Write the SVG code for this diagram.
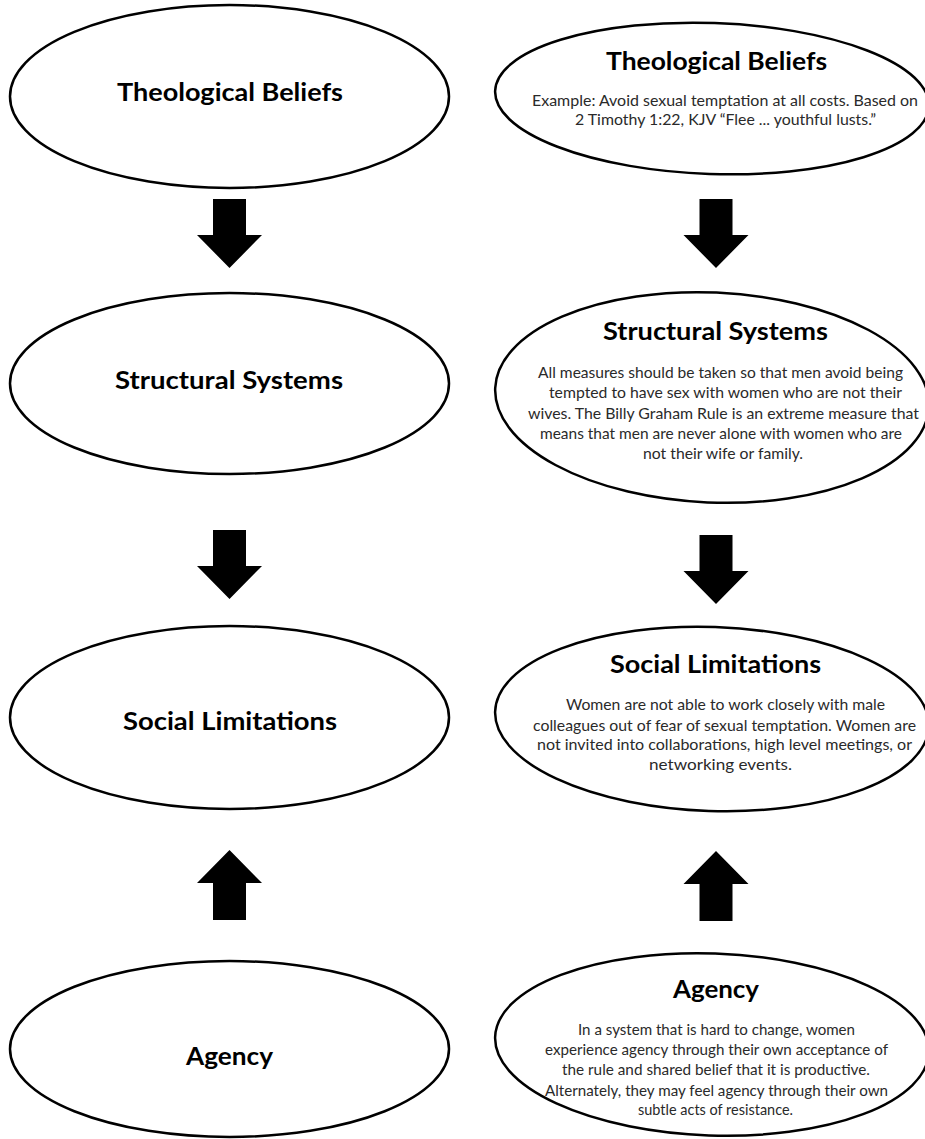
<svg xmlns="http://www.w3.org/2000/svg" xmlns:xlink="http://www.w3.org/1999/xlink" width="925" height="1139" viewBox="0 0 925 1139">
<style>
.node{fill:#fff;stroke:#000;stroke-width:2.5}
.title{font-family:Lato,"Open Sans",sans-serif;font-weight:700;font-size:25px;fill:#000;text-anchor:middle}
.body{font-family:Lato,"Open Sans",sans-serif;font-size:16px;fill:#2a2a2a;text-anchor:middle}
.arrow{fill:#000}
</style>
<defs>
<path id="down" d="M-16.5,0 H16.5 V36 H32.5 L0,69 L-32.5,36 H-16.5 Z"/>
<path id="up" d="M0,0 L32.5,33 H16.5 V70 H-16.5 V33 H-32.5 Z"/>
</defs>
<rect width="925" height="1139" fill="#fff"/>

<g id="left-theological">
<ellipse class="node" cx="229.5" cy="96.5" rx="219.5" ry="91.5"/>
<text class="title" x="230" y="101" textLength="226" lengthAdjust="spacingAndGlyphs">Theological Beliefs</text>
</g>
<g id="left-structural">
<ellipse class="node" cx="229.5" cy="383.5" rx="219.5" ry="90.5"/>
<text class="title" x="229" y="389" textLength="228" lengthAdjust="spacingAndGlyphs">Structural Systems</text>
</g>
<g id="left-social">
<ellipse class="node" cx="229.5" cy="717.5" rx="219.5" ry="91.5"/>
<text class="title" x="230" y="730" textLength="214" lengthAdjust="spacingAndGlyphs">Social Limitations</text>
</g>
<g id="left-agency">
<ellipse class="node" cx="229.5" cy="1049" rx="219.5" ry="88"/>
<text class="title" x="229.5" y="1065" textLength="87" lengthAdjust="spacingAndGlyphs">Agency</text>
</g>

<g id="right-theological">
<ellipse class="node" cx="712" cy="98.5" rx="217" ry="75.5" transform="rotate(2 712 98.5)"/>
<text class="title" x="716.5" y="70" textLength="221" lengthAdjust="spacingAndGlyphs">Theological Beliefs</text>
<text class="body" x="725" y="106" textLength="386" lengthAdjust="spacingAndGlyphs">Example: Avoid sexual temptation at all costs. Based on</text>
<text class="body" x="725.5" y="125" textLength="301" lengthAdjust="spacingAndGlyphs">2 Timothy 1:22, KJV “Flee ... youthful lusts.”</text>
</g>
<g id="right-structural">
<ellipse class="node" cx="712" cy="397.5" rx="217" ry="105" transform="rotate(2.5 712 397.5)"/>
<text class="title" x="715.5" y="340" textLength="225" lengthAdjust="spacingAndGlyphs">Structural Systems</text>
<text class="body" x="720.5" y="378" textLength="365" lengthAdjust="spacingAndGlyphs">All measures should be taken so that men avoid being</text>
<text class="body" x="725.5" y="398" textLength="353" lengthAdjust="spacingAndGlyphs">tempted to have sex with women who are not their</text>
<text class="body" x="723.5" y="419" textLength="391" lengthAdjust="spacingAndGlyphs">wives. The Billy Graham Rule is an extreme measure that</text>
<text class="body" x="721" y="439" textLength="362" lengthAdjust="spacingAndGlyphs">means that men are never alone with women who are</text>
<text class="body" x="723" y="459" textLength="160" lengthAdjust="spacingAndGlyphs">not their wife or family.</text>
</g>
<g id="right-social">
<ellipse class="node" cx="712" cy="719" rx="217" ry="92" transform="rotate(2 712 719)"/>
<text class="title" x="715.5" y="673" textLength="211" lengthAdjust="spacingAndGlyphs">Social Limitations</text>
<text class="body" x="725.5" y="710" textLength="319" lengthAdjust="spacingAndGlyphs">Women are not able to work closely with male</text>
<text class="body" x="724.5" y="731" textLength="383" lengthAdjust="spacingAndGlyphs">colleagues out of fear of sexual temptation. Women are</text>
<text class="body" x="724.5" y="750" textLength="375" lengthAdjust="spacingAndGlyphs">not invited into collaborations, high level meetings, or</text>
<text class="body" x="720.5" y="770" textLength="143" lengthAdjust="spacingAndGlyphs">networking events.</text>
</g>
<g id="right-agency">
<ellipse class="node" cx="712" cy="1044.5" rx="217" ry="91" transform="rotate(2 712 1044.5)"/>
<text class="title" x="716" y="998" textLength="86" lengthAdjust="spacingAndGlyphs">Agency</text>
<text class="body" x="716.5" y="1035" textLength="277" lengthAdjust="spacingAndGlyphs">In a system that is hard to change, women</text>
<text class="body" x="716.5" y="1055" textLength="343" lengthAdjust="spacingAndGlyphs">experience agency through their own acceptance of</text>
<text class="body" x="716" y="1075" textLength="308" lengthAdjust="spacingAndGlyphs">the rule and shared belief that it is productive.</text>
<text class="body" x="716.5" y="1096" textLength="343" lengthAdjust="spacingAndGlyphs">Alternately, they may feel agency through their own</text>
<text class="body" x="715.5" y="1115" textLength="155" lengthAdjust="spacingAndGlyphs">subtle acts of resistance.</text>
</g>

<g id="connectors" class="arrow">
<use xlink:href="#down" href="#down" transform="translate(229.5 199)"/>
<use xlink:href="#down" href="#down" transform="translate(229.5 530)"/>
<use xlink:href="#up" href="#up" transform="translate(229.5 850)"/>
<use xlink:href="#down" href="#down" transform="translate(716 199)"/>
<use xlink:href="#down" href="#down" transform="translate(716 535)"/>
<use xlink:href="#up" href="#up" transform="translate(716 851)"/>
</g>
</svg>
